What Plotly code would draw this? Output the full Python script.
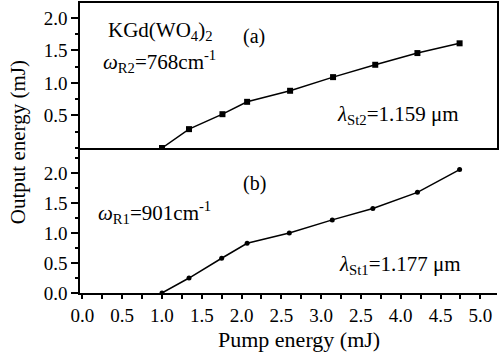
import plotly.graph_objects as go

# Data
pump_a = [1.0, 1.34, 1.76, 2.07, 2.61, 3.15, 3.68, 4.21, 4.74]
out_a = [0.0, 0.29, 0.52, 0.71, 0.88, 1.09, 1.28, 1.46, 1.61]
pump_b = [1.0, 1.34, 1.75, 2.07, 2.60, 3.14, 3.65, 4.21, 4.74]
out_b = [0.0, 0.25, 0.58, 0.83, 1.00, 1.22, 1.41, 1.68, 2.06]

x_tickvals = [0.0, 0.5, 1.0, 1.5, 2.0, 2.5, 3.0, 3.5, 4.0, 4.5, 5.0]
x_ticktext = ["0.0", "0.5", "1.0", "1.5", "2.0", "2.5", "3.0", "2.5", "4.0", "4.5", "5.0"]
ya_tickvals = [0.5, 1.0, 1.5, 2.0]
ya_ticktext = ["0.5", "1.0", "1.5", "2.0"]
yb_tickvals = [0.0, 0.5, 1.0, 1.5, 2.0]
yb_ticktext = ["0.0", "0.5", "1.0", "1.5", "2.0"]

FONT = "Liberation Serif"
TICKFONT = dict(family=FONT, size=19, color="black")

fig = go.Figure()
fig.add_trace(go.Scatter(x=pump_b, y=out_b, mode="lines+markers", xaxis="x", yaxis="y",
                         line=dict(color="black", width=1.5),
                         marker=dict(symbol="circle", size=5, color="black"),
                         showlegend=False))
fig.add_trace(go.Scatter(x=pump_a, y=out_a, mode="lines+markers", xaxis="x2", yaxis="y2",
                         line=dict(color="black", width=1.5),
                         marker=dict(symbol="square", size=6, color="black"),
                         showlegend=False))

XR = [-0.03, 5.21]
minor_y = dict(ticks="outside", ticklen=3, tickwidth=1.5, tickcolor="black",
               tickmode="linear", tick0=0, dtick=0.25)
fig.update_layout(
    width=500, height=352,
    margin=dict(l=80, r=1, t=3, b=59),
    plot_bgcolor="white", paper_bgcolor="white",
    font=dict(family=FONT, color="black", size=19),
    xaxis=dict(range=XR, showgrid=False, zeroline=False, domain=[0, 1], anchor="y",
               showline=True, linecolor="black", linewidth=2,
               tickmode="array", tickvals=x_tickvals, ticktext=x_ticktext,
               ticks="outside", ticklen=4, tickwidth=1.5, tickcolor="black",
               minor=dict(ticks="outside", ticklen=4, tickwidth=1.5, tickcolor="black",
                          tickmode="linear", tick0=0, dtick=0.25),
               ticklabeloverflow="allow", tickfont=TICKFONT),
    yaxis=dict(domain=[0, 0.5], range=[0, 2.42], anchor="x",
               showgrid=False, zeroline=False,
               showline=True, linecolor="black", linewidth=1.5,
               tickmode="array", tickvals=yb_tickvals, ticktext=yb_ticktext,
               ticks="outside", ticklen=7, tickwidth=1.5, tickcolor="black",
               minor=minor_y, tickfont=TICKFONT),
    xaxis2=dict(range=XR, showgrid=False, zeroline=False, domain=[0, 1], anchor="y2",
                showline=True, mirror=True, linecolor="black", linewidth=2,
                showticklabels=False, ticks=""),
    yaxis2=dict(domain=[0.5, 1], range=[0, 2.23], anchor="x2",
                showgrid=False, zeroline=False,
                showline=True, mirror=True, linecolor="black", linewidth=1.5,
                tickmode="array", tickvals=ya_tickvals, ticktext=ya_ticktext,
                ticks="outside", ticklen=7, tickwidth=1.5, tickcolor="black",
                minor=minor_y, tickfont=TICKFONT),
)

def ann(text, x, y, size=21, **kw):
    fig.add_annotation(text=text, x=x, y=y, xref="paper", yref="paper",
                       xanchor=kw.pop("xanchor", "left"), yanchor="middle",
                       showarrow=False, font=dict(family=FONT, size=size, color="black"), **kw)

ann("KGd(WO<sub>4</sub>)<sub>2</sub>", 0.062, 0.905)
ann("(a)", 0.385, 0.884, size=20)
ann("<i>ω</i><sub>R2</sub>=768cm<sup>-1</sup>", 0.050, 0.797)
ann("<i>λ</i><sub>St2</sub>=1.159 μm", 0.612, 0.614)
ann("(b)", 0.385, 0.376, size=20)
ann("<i>ω</i><sub>R1</sub>=901cm<sup>-1</sup>", 0.038, 0.276)
ann("<i>λ</i><sub>St1</sub>=1.177 μm", 0.617, 0.097)

ann("Output energy (mJ)", -0.148, 0.521, size=21, xanchor="center", textangle=-90)
ann("Pump energy (mJ)", 0.525, -0.162, size=22, xanchor="center")

fig.write_html("out.html")
